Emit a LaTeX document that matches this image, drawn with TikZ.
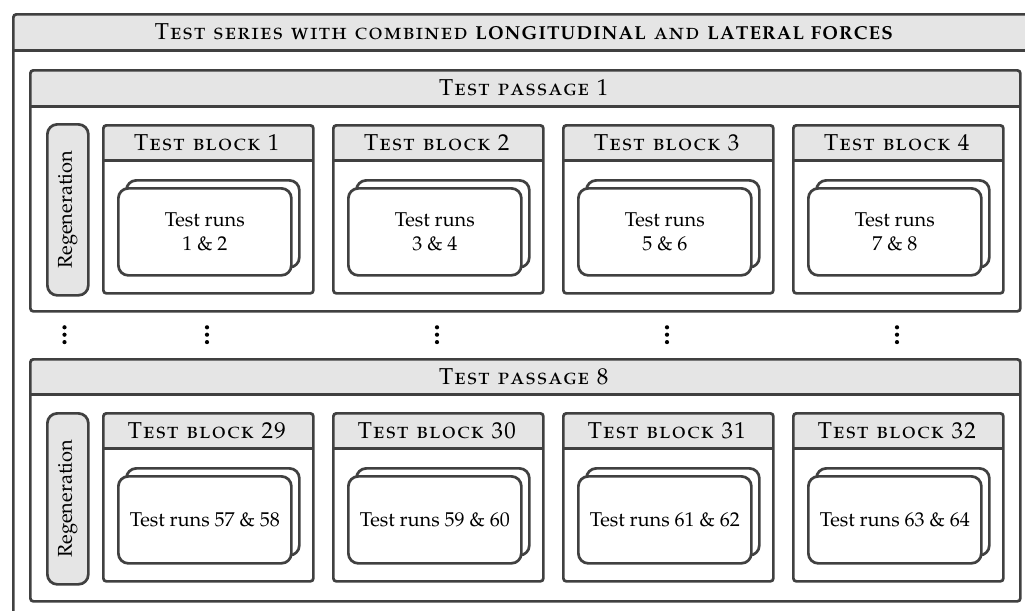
\documentclass[tikz,border=0pt]{standalone}
\usepackage[T1]{fontenc}
\usepackage[sc]{mathpazo}
\definecolor{edge}{RGB}{64,64,64}
\definecolor{hdr}{RGB}{229,229,229}
% letter-spaced small caps for the headings
\newlength\lsk
\setlength\lsk{0.58pt}
\def\lsX#1{\ifx#1\relax\else#1\kern\lsk\expandafter\lsX\fi}
\def\lslineX#1 #2\relax{\lsX#1\relax\ifx\relax#2\relax\else\ \lslineX#2\relax\fi}
\newcommand\lsline[1]{\lslineX#1 \relax\relax}
\newcommand\hdrfont{\fontsize{11.5}{13}\selectfont\scshape}
\newcommand\boldsc{\fontsize{9.4}{11}\selectfont\bfseries\upshape}
\newcommand\runfont{\fontsize{10}{12}\selectfont\spaceskip=2.4pt plus 1pt}
% one test block: name, x, y (px, top left), title, run text
\newcommand\tblock[5]{%
  \node[headfill, minimum width=105pt, minimum height=18pt] (#1h) at (#2,#3) {\hdrfont\lsline{#4}};
  \node[frame, minimum width=105pt, minimum height=84pt] (#1) at (#2,#3) {};
  \draw[lw] (#1h.south west) -- (#1h.south east);
  \node[runbox] (#1b) at (#2+23,#3+55) {};
  \node[runbox, align=center, font=\runfont] (#1r) at (#2+15,#3+63) {#5};
}
\newcommand\vdotsat[3]{%
  \coordinate (#1) at (#2,#3);
  \foreach \k in {-7.4,0,7.4} \fill (#2,#3+\k) circle (2.1);
}
\tikzset{
  lw/.style={line width=1.35pt, draw=edge},
  frame/.style={lw, rounded corners=1.5pt, inner sep=0pt, anchor=north west},
  headfill/.style={fill=hdr, rounded corners=1.5pt, inner sep=0pt, anchor=north west},
  runbox/.style={lw, fill=white, rounded corners=5pt, inner sep=0pt, anchor=north west,
    minimum width=86.5pt, minimum height=43.5pt},
  regenbox/.style={lw, fill=hdr, rounded corners=5pt, inner sep=0pt, anchor=north west,
    minimum width=20.5pt, minimum height=85.5pt, font=\fontsize{10}{12}\selectfont},
}
\begin{document}
\begin{tikzpicture}[x=0.5pt, y=-0.5pt]
\useasboundingbox (0,0) rectangle (1025,611);
\clip (0,0) rectangle (1025,611);
% test series frame
\node[headfill, minimum width=512pt, minimum height=18.5pt] (sh) at (12,13)
  {\hdrfont\lsline{Test series with combined}\ {\boldsc\lsline{LONGITUDINAL}}\ \lsline{and}\ {\boldsc\lsline{LATERAL FORCES}}};
\node[frame, minimum width=512pt, minimum height=320pt] (series) at (12,13) {};
\draw[lw] (sh.south west) -- (sh.south east);
% passage 1
\node[headfill, minimum width=495pt, minimum height=18.5pt] (p1h) at (29,69) {\hdrfont\lsline{Test passage 1}};
\node[frame, minimum width=495pt, minimum height=120.5pt] (p1) at (29,69) {};
\draw[lw] (p1h.south west) -- (p1h.south east);
\node[regenbox] (r1) at (46,123) {\rotatebox{90}{Regeneration}};
\tblock{b1}{102}{124}{Test block 1}{Test runs\\1 \& 2}
\tblock{b2}{332}{124}{Test block 2}{Test runs\\3 \& 4}
\tblock{b3}{562}{124}{Test block 3}{Test runs\\5 \& 6}
\tblock{b4}{792}{124}{Test block 4}{Test runs\\7 \& 8}
% ellipsis between passages
\vdotsat{d0}{64.5}{334.7}
\vdotsat{d1}{207}{334.7}
\vdotsat{d2}{437}{334.7}
\vdotsat{d3}{667}{334.7}
\vdotsat{d4}{897}{334.7}
% passage 8
\node[headfill, minimum width=495pt, minimum height=18pt] (p8h) at (29,358) {\hdrfont\lsline{Test passage 8}};
\node[frame, minimum width=495pt, minimum height=121pt] (p8) at (29,358) {};
\draw[lw] (p8h.south west) -- (p8h.south east);
\node[regenbox] (r8) at (46,412) {\rotatebox{90}{Regeneration}};
\tblock{b29}{102}{412}{Test block 29}{Test runs 57 \& 58}
\tblock{b30}{332}{412}{Test block 30}{Test runs 59 \& 60}
\tblock{b31}{562}{412}{Test block 31}{Test runs 61 \& 62}
\tblock{b32}{792}{412}{Test block 32}{Test runs 63 \& 64}
\end{tikzpicture}
\end{document}
